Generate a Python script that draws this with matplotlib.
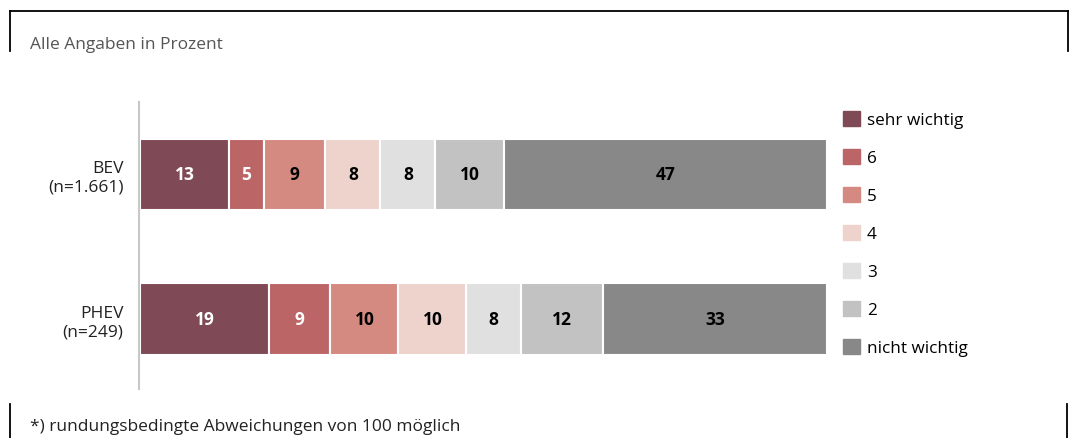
import numpy as np
import matplotlib.pyplot as plt
from matplotlib.patches import Rectangle
from matplotlib.lines import Line2D

plt.rcParams['font.family'] = ['Open Sans', 'DejaVu Sans']

groups = ['BEV\n(n=1.661)', 'PHEV\n(n=249)']
categories = ['sehr wichtig', '6', '5', '4', '3', '2', 'nicht wichtig']
bev = [13, 5, 9, 8, 8, 10, 47]
phev = [19, 9, 10, 10, 8, 12, 33]
colors = ['#7f4a55', '#bb6567', '#d48a80', '#eed3cd', '#e0e0e0', '#c2c2c2', '#888888']
text_colors = ['white', 'white', 'black', 'black', 'black', 'black', 'black']

W, H = 1069, 439
fig = plt.figure(figsize=(W / 100, H / 100), dpi=100)

# plot area in pixel coordinates
x0, x1 = 140, 827
y_top, y_bot = 103, 390
ax = fig.add_axes([x0 / W, 1 - y_bot / H, (x1 - x0) / W, (y_bot - y_top) / H])

rows = [bev, phev]
ypos = [1, 0]
for vals, y in zip(rows, ypos):
    total = sum(vals)
    left = 0
    for v, c, tc in zip(vals, colors, text_colors):
        w = v / total * 100
        ax.barh(y, w, left=left, height=0.49, color=c, edgecolor='white', linewidth=1.5)
        ax.text(left + w / 2, y, str(v), ha='center', va='center',
                color=tc, fontsize=12.5, fontweight='bold')
        left += w

ax.set_xlim(0, 100)
ax.set_ylim(-0.483, 1.497)
ax.set_yticks(ypos)
ax.set_yticklabels(groups)
ax.tick_params(axis='y', length=0, pad=11, labelsize=12.5, labelcolor='#222222')
ax.set_xticks([])
for s in ['top', 'right', 'bottom']:
    ax.spines[s].set_visible(False)
ax.spines['left'].set_color('#c8c8c8')
ax.spines['left'].set_linewidth(1.5)
ax.spines['left'].set_position(('outward', 1))

# legend
handles = [Rectangle((0, 0), 1, 1, color=c) for c in colors]
fig.legend(handles, categories, loc='upper left', bbox_to_anchor=(843 / W, 1 - 112 / H),
           frameon=False, fontsize=12.3, handlelength=1.0, handleheight=1.0,
           handletextpad=0.4, labelspacing=1.2, borderaxespad=0, borderpad=0)

# frame pieces
def fline(xs, ys, **kw):
    fig.add_artist(Line2D([x / W for x in xs], [1 - y / H for y in ys],
                          transform=fig.transFigure, color='black', linewidth=1.3, **kw))

fline([10, 1068], [12, 12])
fline([10, 10], [12, 52])
fline([1068, 1068], [12, 52])
fline([10, 10], [405, 439])
fline([1067, 1067], [405, 439])

fig.text(30 / W, 1 - 45 / H, 'Alle Angaben in Prozent', fontsize=12.5, color='#555555',
         va='center', ha='left')
fig.text(30 / W, 1 - 427 / H, '*) rundungsbedingte Abweichungen von 100 möglich',
         fontsize=12.5, color='#222222', va='center', ha='left')

fig.savefig('out.png', dpi=100)
